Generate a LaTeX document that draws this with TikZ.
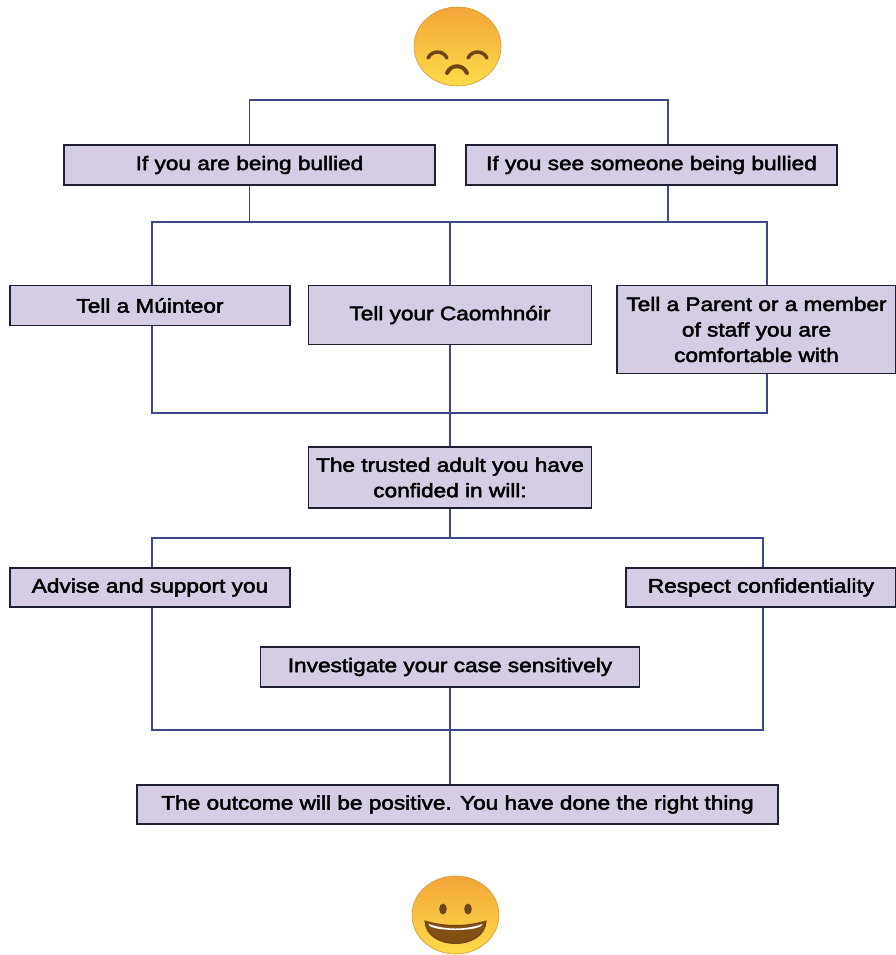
\documentclass[tikz,border=0pt]{standalone}
\usepackage{fontspec}
\setmainfont{Liberation Sans}[FakeStretch=1.16,FakeBold=2.5]
\usepackage{tikz}
\usetikzlibrary{calc}
\definecolor{boxfill}{RGB}{212,205,227}
\definecolor{boxline}{RGB}{32,32,52}
\definecolor{linkblue}{RGB}{62,72,140}
\definecolor{faceorange}{RGB}{242,166,56}
\definecolor{faceyellow}{RGB}{255,220,74}
\definecolor{facebrown}{RGB}{110,70,22}
\tikzset{
  stepbox/.style={draw=boxline,fill=boxfill,line width=1.6pt,inner sep=0pt,align=center,
    font=\fontsize{19.5}{25.5}\selectfont},
  link/.style={draw=linkblue,line width=1.5pt},
  feature/.style={draw=facebrown,line width=3.5pt,line cap=round}
}

\begin{document}
\begin{tikzpicture}[x=1pt,y=-1pt]
    \useasboundingbox (0,0) rectangle (896,955);
    % faces
    \shade[top color=faceorange,bottom color=faceyellow,draw=faceorange!90!black,line width=0.6pt]
      (457.5,46.5) ellipse [x radius=43.5,y radius=39.5];
    \draw[feature] (428,58) .. controls (432,50) and (443,50) .. (447,58);
    \draw[feature] (468,58) .. controls (472,50) and (483,50) .. (487,58);
    \draw[feature,line width=4pt] (447,73) .. controls (451,64) and (463,64) .. (467,73);
    \shade[top color=faceorange,bottom color=faceyellow,draw=faceorange!90!black,line width=0.6pt]
      (455.5,915) ellipse [x radius=43.5,y radius=39];
    \fill[facebrown] (443,909) ellipse [x radius=3.8,y radius=5.5];
    \fill[facebrown] (468,909) ellipse [x radius=3.8,y radius=5.5];
    \filldraw[fill=facebrown!85!orange,draw=facebrown,line width=1pt]
      (425,921) .. controls (445,927) and (466,927) .. (486,921) .. controls (485,951) and (426,951) .. cycle;
    \fill[white] (428.5,924) .. controls (446,930) and (465,930) .. (482.5,924) .. controls (482,932) and (429,932) .. cycle;

    \node[stepbox,minimum width=371,minimum height=40] (bullied) at (249.5,165) {If you are being bullied};
    \node[stepbox,minimum width=371,minimum height=40] (witness) at (651.5,165) {If you see someone being bullied};
    \node[stepbox,minimum width=280,minimum height=40] (muinteor) at (150,305.5) {Tell a Múinteor};
    \node[stepbox,minimum width=283,minimum height=59] (caomhnoir) at (450,315) {Tell your Caomhnóir};
    \node[stepbox,minimum width=279,minimum height=88] (parent) at (756.5,329.5)
      {Tell a Parent or a member\\of staff you are\\comfortable with};
    \node[stepbox,minimum width=283,minimum height=61] (trusted) at (450,477.5)
      {The trusted adult you have\\confided in will:};
    \node[stepbox,minimum width=280,minimum height=39] (advise) at (150,587.5) {Advise and support you};
    \node[stepbox,minimum width=270,minimum height=39] (respect) at (761,587.5) {Respect confidentiality};
    \node[stepbox,minimum width=379,minimum height=40] (investigate) at (450,667) {Investigate your case sensitively};
    \node[stepbox,minimum width=641,minimum height=39] (outcome) at (457.5,804.5)
      {The outcome will be positive. You have done the right thing};

    \coordinate (crown) at (458,100);
    \coordinate (split) at (450,222);
    \coordinate (merge) at (450,413);
    \coordinate (fan) at (450,538);
    \coordinate (join) at (450,730);

    \draw[link] (bullied.north) |- (crown) -| ([xshift=16.5pt]witness.north);
    \draw[link] (bullied.south) -- (bullied.south |- split);
    \draw[link] ([xshift=16.5pt]witness.south) -- ([xshift=16.5pt]witness.south |- split);
    \draw[link] ([xshift=2pt]muinteor.north) |- (split) -| ([xshift=10.5pt]parent.north);
    \draw[link] (split) -- (caomhnoir.north);
    \draw[link] ([xshift=2pt]muinteor.south) |- (merge) -| ([xshift=10.5pt]parent.south);
    \draw[link] (caomhnoir.south) -- (trusted.north);
    \draw[link] (trusted.south) -- (fan);
    \draw[link] ([xshift=2pt]advise.north) |- (fan) -| ([xshift=2pt]respect.north);
    \draw[link] ([xshift=2pt]advise.south) |- (join) -| ([xshift=2pt]respect.south);
    \draw[link] (investigate.south) -- (investigate.south |- outcome.north);
  \end{tikzpicture}
\end{document}
